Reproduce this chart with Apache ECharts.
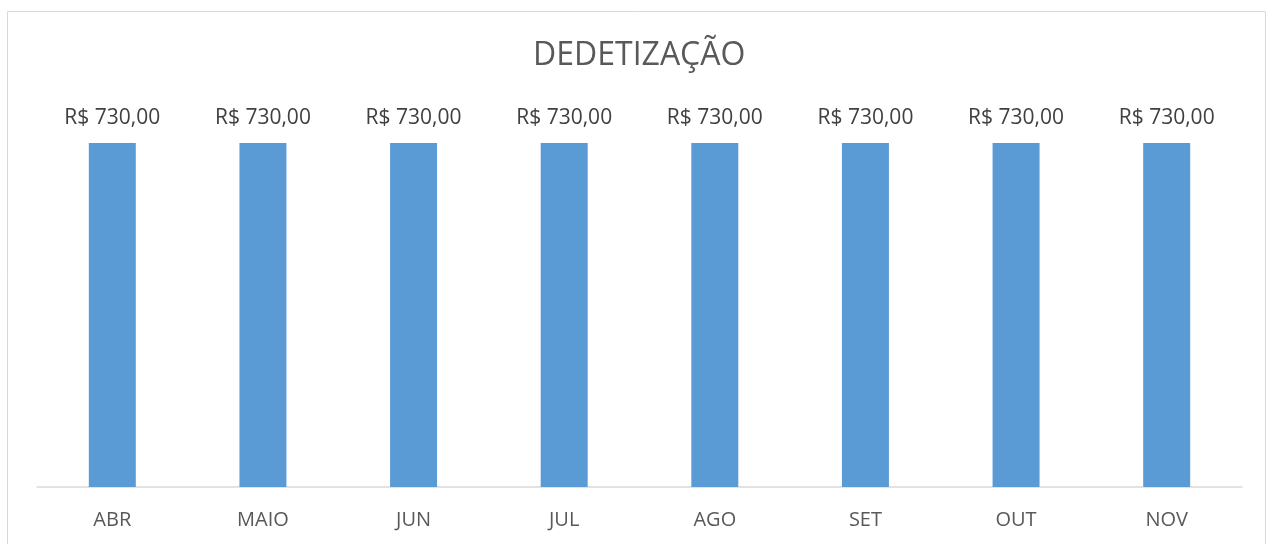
<!DOCTYPE html>
<html>
<head>
<meta charset="utf-8">
<script src="https://cdn.jsdelivr.net/npm/echarts@6/dist/echarts.min.js"></script>
<style>
  html, body { margin: 0; padding: 0; background: #fff; }
  #chart { width: 1271px; height: 544px; }
</style>
</head>
<body>
<div id="chart"></div>
<script>
let months = ['ABR', 'MAIO', 'JUN', 'JUL', 'AGO', 'SET', 'OUT', 'NOV']
let valores = [730, 730, 730, 730, 730, 730, 730, 730]

let chart = echarts.init(document.getElementById('chart'))

let option = {
  backgroundColor: '#fff',
  textStyle: { fontFamily: 'Open Sans' },
  graphic: [{
    type: 'rect',
    shape: { x: 7.5, y: 11.5, width: 1258, height: 540 },
    style: { fill: 'none', stroke: '#d9d9d9', lineWidth: 1 },
    silent: true
  }],
  title: {
    text: 'DEDETIZAÇÃO',
    left: 528,
    top: 35,
    textStyle: {
      fontFamily: 'Open Sans',
      fontSize: 32,
      fontWeight: 'normal',
      color: '#595959'
    }
  },
  grid: {
    left: 37,
    right: 29,
    top: 143,
    bottom: 57
  },
  xAxis: {
    type: 'category',
    data: months,
    axisLine: { lineStyle: { color: '#d9d9d9', width: 1.5 } },
    axisTick: { show: false },
    axisLabel: {
      color: '#595959',
      fontSize: 20,
      margin: 23
    }
  },
  yAxis: {
    type: 'value',
    min: 0,
    max: 730,
    show: false,
    splitLine: { show: false }
  },
  series: [{
    name: 'Dedetização',
    type: 'bar',
    data: valores,
    barWidth: 47,
    itemStyle: { color: '#5b9bd5' },
    label: {
      show: true,
      position: 'top',
      distance: 14,
      color: '#404040',
      fontSize: 21,
      formatter: function (p) {
        return 'R$ ' + p.value.toFixed(2).replace('.', ',')
      }
    }
  }]
}
chart.setOption(option)
</script>
</body>
</html>
